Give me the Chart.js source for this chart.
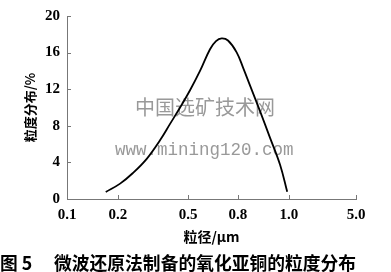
<!DOCTYPE html>
<html><head><meta charset="utf-8">
<script src="https://cdn.jsdelivr.net/npm/chart.js@4/dist/chart.umd.min.js"></script>
<style>html,body{margin:0;padding:0;background:#fff;}canvas{display:block;}</style>
</head><body>
<canvas id="c" width="391" height="272"></canvas>
<script>
// ---- data ----
const sizeUm = [0.176, 0.209, 0.264, 0.324, 0.380, 0.423, 0.466, 0.512, 0.572, 0.632, 0.668, 0.702, 0.740, 0.792, 0.821, 0.847, 0.886, 0.925, 0.965, 0.993];
const distributionPct = [0.77, 1.68, 2.84, 4.42, 6.42, 8.21, 10.0, 11.89, 14.0, 16.37, 17.26, 17.55, 17.32, 16.03, 14.28, 12.42, 9.63, 6.74, 3.74, 0.79];
const xTickValues = [0.1, 0.2, 0.5, 0.8, 1.0, 5.0];
const xTickLabels = ['0.1', '0.2', '0.5', '0.8', '1.0', '5.0'];
const yTickValues = [0, 4, 8, 12, 16, 20];
const xAxisTitle = '粒径/μm';
const yAxisTitle = '粒度分布/%';
const caption = '图 5　 微波还原法制备的氧化亚铜的粒度分布';
const watermarkCn = '中国选矿技术网';
const watermarkUrl = 'www.mining120.com';

// the original axis is non-uniform: place of each tick along the axis (in tick-gap units)
const tickSlots = [0, 1, 2.373, 3.353, 4.353, 5.667];
function toSlot(v) {
  for (let i = 0; i < xTickValues.length - 1; i++) {
    if (v <= xTickValues[i + 1]) {
      const f = (v - xTickValues[i]) / (xTickValues[i + 1] - xTickValues[i]);
      return tickSlots[i] + f * (tickSlots[i + 1] - tickSlots[i]);
    }
  }
  return tickSlots[tickSlots.length - 1];
}

const points = sizeUm.map((s, i) => ({ x: toSlot(s), y: distributionPct[i] }));

const innerTicks = {
  id: 'innerTicks',
  afterDraw(chart) {
    const { ctx, chartArea: a, scales: { x, y } } = chart;
    ctx.save();
    ctx.strokeStyle = '#777';
    ctx.lineWidth = 1;
    ctx.beginPath();
    x.ticks.forEach(t => { const p = Math.round(x.getPixelForValue(t.value)) + 0.5; ctx.moveTo(p, a.bottom); ctx.lineTo(p, a.bottom - 4); });
    y.ticks.forEach(t => { const p = Math.round(y.getPixelForValue(t.value)) + 0.5; ctx.moveTo(a.left, p); ctx.lineTo(a.left + 4, p); });
    ctx.stroke();
    ctx.restore();
  }
};

const watermark = {
  id: 'watermark',
  beforeDatasetsDraw(chart) {
    const { ctx, chartArea: a } = chart;
    ctx.save();
    ctx.textBaseline = 'middle';
    ctx.textAlign = 'left';
    ctx.fillStyle = '#999';
    ctx.font = '20px "Noto Sans CJK SC"';
    ctx.fillText(watermarkCn, a.left + 68, a.top + 91);
    ctx.font = '17.5px "Liberation Mono"';
    ctx.fillText(watermarkUrl, a.left + 48, a.top + 134);
    ctx.restore();
  }
};

new Chart(document.getElementById('c'), {
  type: 'line',
  data: {
    datasets: [{
      data: points,
      borderColor: '#000',
      borderWidth: 1.8,
      pointRadius: 0,
      tension: 0.4,
      fill: false
    }]
  },
  options: {
    responsive: false,
    animation: false,
    devicePixelRatio: 1,
    layout: { padding: { top: 9, right: 35, bottom: 0, left: 0 } },
    plugins: {
      legend: { display: false },
      tooltip: { enabled: false },
      title: {
        display: true,
        position: 'bottom',
        text: caption,
        color: '#000',
        font: { family: '"Noto Sans CJK SC"', size: 18, weight: 'bold', lineHeight: 1 },
        padding: 0
      }
    },
    scales: {
      x: {
        type: 'linear',
        min: tickSlots[0],
        max: tickSlots[tickSlots.length - 1],
        afterBuildTicks: s => { s.ticks = tickSlots.map(v => ({ value: v })); },
        afterFit: s => { s.height = 55; },
        grid: { display: false, drawTicks: false },
        border: { display: true, color: '#777', width: 1 },
        ticks: {
          padding: 7,
          maxRotation: 0,
          autoSkip: false,
          color: '#000',
          font: { family: '"Liberation Serif"', size: 15, weight: 'bold' },
          callback: (v, i) => xTickLabels[i]
        },
        title: {
          display: true,
          text: xAxisTitle,
          color: '#000',
          font: { family: '"Noto Sans CJK SC"', size: 14, weight: 'bold', lineHeight: 1.2 },
          padding: { top: 0, bottom: 9 }
        }
      },
      y: {
        min: 0,
        max: 20,
        afterBuildTicks: s => { s.ticks = yTickValues.map(v => ({ value: v })); },
        afterFit: s => { s.width = 67; },
        grid: { display: false, drawTicks: false },
        border: { display: true, color: '#777', width: 1 },
        ticks: {
          padding: 7,
          color: '#000',
          font: { family: '"Liberation Serif"', size: 15, weight: 'bold' }
        },
        title: {
          display: true,
          text: yAxisTitle,
          color: '#000',
          font: { family: '"Noto Sans CJK SC"', size: 13, weight: 'bold', lineHeight: 1.2 },
          padding: { top: 22, bottom: 0 }
        }
      }
    }
  },
  plugins: [watermark, innerTicks]
});
</script>
</body></html>
